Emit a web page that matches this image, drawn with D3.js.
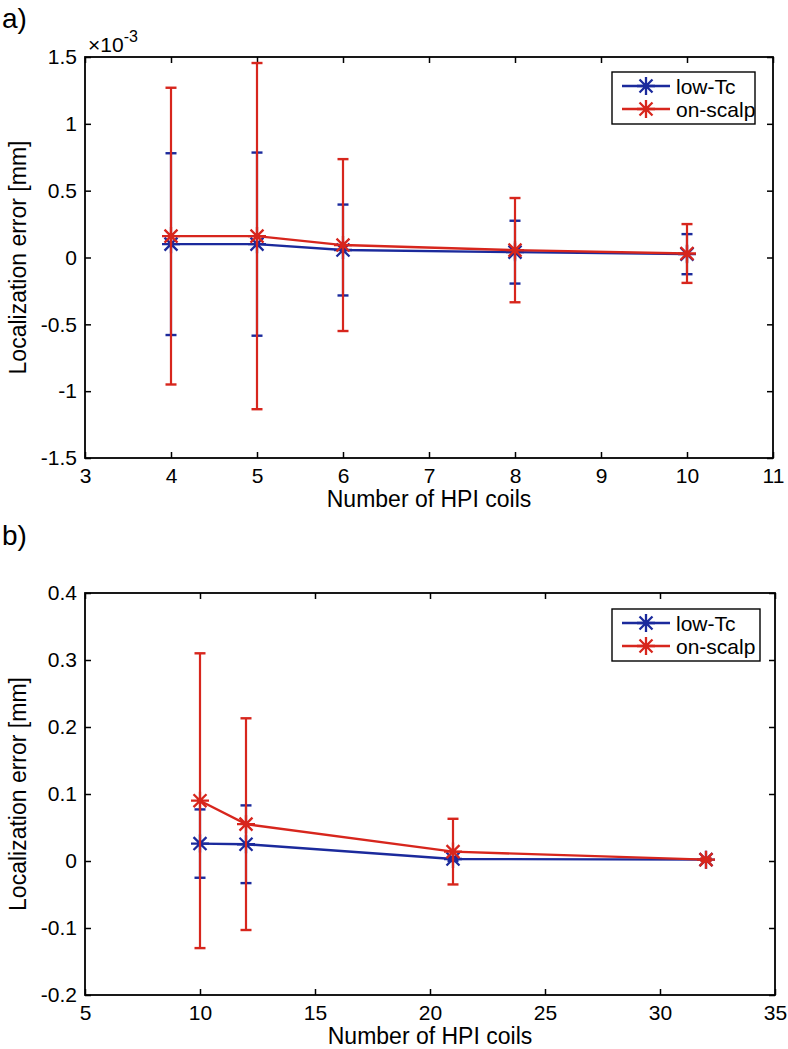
<!DOCTYPE html>
<html>
<head>
<meta charset="utf-8">
<script src="https://cdn.jsdelivr.net/npm/d3@7"></script>
<style>
  html, body { margin: 0; padding: 0; background: #fff; }
  svg { display: block; }
  text { font-family: "Liberation Sans", Arial, Helvetica, sans-serif; fill: #000; }
</style>
</head>
<body>
<svg id="chart" width="788" height="1049"></svg>
<script>
// ---------- Data ----------
// Panel a) values in units of 1e-3 mm
const seriesNames = ["low-Tc", "on-scalp"];
const coilsA = [4, 5, 6, 8, 10];
const lowTcMeanA = [0.10, 0.10, 0.056, 0.040, 0.025];
const lowTcErrA = [0.68, 0.685, 0.34, 0.235, 0.15];
const onScalpMeanA = [0.16, 0.16, 0.093, 0.055, 0.030];
const onScalpErrA = [1.11, 1.295, 0.643, 0.39, 0.22];
const xTicksA = [3, 4, 5, 6, 7, 8, 9, 10, 11];
const yTicksA = [-1.5, -1, -0.5, 0, 0.5, 1, 1.5];
const yTickLabelsA = ["-1.5", "-1", "-0.5", "0", "0.5", "1", "1.5"];

// Panel b) values in mm
const coilsB = [10, 12, 21, 32];
const lowTcMeanB = [0.026, 0.025, 0.003, 0.002];
const lowTcErrB = [0.051, 0.058, 0.003, 0.001];
const onScalpMeanB = [0.090, 0.055, 0.014, 0.002];
const onScalpErrB = [0.220, 0.158, 0.049, 0.002];
const xTicksB = [5, 10, 15, 20, 25, 30, 35];
const yTicksB = [-0.2, -0.1, 0, 0.1, 0.2, 0.3, 0.4];
const yTickLabelsB = ["-0.2", "-0.1", "0", "0.1", "0.2", "0.3", "0.4"];

const xLabel = "Number of HPI coils";
const yLabel = "Localization error [mm]";

// ---------- Styles ----------
const BLUE = "#1b2a9c";
const RED = "#d7261d";
const TICK_FONT = 21;
const LABEL_FONT = 23;

const svg = d3.select("#chart");

function asteriskPath(r) {
  const a = r * 0.72;
  return `M0,${-r}V${r}M${-r},0H${r}M${-a},${-a}L${a},${a}M${-a},${a}L${a},${-a}`;
}

function drawPanel(opts) {
  const { left, right, top, bottom, xDomain, yDomain, xTicks, yTicks, yTickLabels, series, legend } = opts;
  const x = d3.scaleLinear().domain(xDomain).range([left, right]);
  const y = d3.scaleLinear().domain(yDomain).range([bottom, top]);
  const g = svg.append("g");

  const tickLen = 6;
  const ax = g.append("g").attr("transform", `translate(0,${bottom})`)
    .call(d3.axisBottom(x).tickValues(xTicks).tickFormat(d3.format("d")).tickSizeInner(-tickLen).tickSizeOuter(0).tickPadding(10));
  const axT = g.append("g").attr("transform", `translate(0,${top})`)
    .call(d3.axisTop(x).tickValues(xTicks).tickFormat("").tickSizeInner(-tickLen).tickSizeOuter(0));
  const ay = g.append("g").attr("transform", `translate(${left},0)`)
    .call(d3.axisLeft(y).tickValues(yTicks).tickFormat((d, i) => yTickLabels[i]).tickSizeInner(-tickLen).tickSizeOuter(0).tickPadding(8));
  const ayR = g.append("g").attr("transform", `translate(${right},0)`)
    .call(d3.axisRight(y).tickValues(yTicks).tickFormat("").tickSizeInner(-tickLen).tickSizeOuter(0));
  [ax, axT, ay, ayR].forEach(a => {
    a.select(".domain").remove();
    a.selectAll(".tick line").attr("stroke", "#000").attr("stroke-width", 1.5);
    a.selectAll(".tick text").attr("font-size", TICK_FONT)
      .attr("font-family", '"Liberation Sans", Arial, sans-serif').attr("fill", "#000");
  });
  ax.selectAll(".tick text").attr("dy", "0.71em");

  g.append("rect").attr("x", left).attr("y", top).attr("width", right - left).attr("height", bottom - top)
    .attr("fill", "none").attr("stroke", "#000").attr("stroke-width", 1.8);

  series.forEach(s => {
    const sg = g.append("g");
    const capW = 5.5;
    s.xs.forEach((xv, i) => {
      const px = x(xv);
      const y1 = y(s.mean[i] + s.err[i]);
      const y0 = y(s.mean[i] - s.err[i]);
      sg.append("line").attr("x1", px).attr("x2", px).attr("y1", y1).attr("y2", y0)
        .attr("stroke", s.color).attr("stroke-width", 2.2);
      [y1, y0].forEach(cy => sg.append("line").attr("x1", px - capW).attr("x2", px + capW)
        .attr("y1", cy).attr("y2", cy).attr("stroke", s.color).attr("stroke-width", 2.4));
    });
    const line = d3.line().x((d, i) => x(s.xs[i])).y(d => y(d));
    sg.append("path").datum(s.mean).attr("d", line).attr("fill", "none")
      .attr("stroke", s.color).attr("stroke-width", 2.4);
    sg.selectAll("path.mk").data(s.mean).enter().append("path").attr("class", "mk")
      .attr("d", asteriskPath(9))
      .attr("transform", (d, i) => `translate(${x(s.xs[i])},${y(d)})`)
      .attr("stroke", s.color).attr("stroke-width", 2.3).attr("fill", "none");
  });

  g.append("text").attr("x", (left + right) / 2).attr("y", bottom + 49)
    .attr("text-anchor", "middle").attr("font-size", LABEL_FONT).text(xLabel);
  g.append("text").attr("transform", `translate(${left - 59},${(top + bottom) / 2}) rotate(-90)`)
    .attr("text-anchor", "middle").attr("font-size", LABEL_FONT).text(yLabel);

  const lg = g.append("g").attr("transform", `translate(${legend.x},${legend.y})`);
  lg.append("rect").attr("x", 0).attr("y", 0).attr("width", legend.w).attr("height", 52)
    .attr("fill", "#fff").attr("stroke", "#000").attr("stroke-width", 1.4);
  series.forEach((s, i) => {
    const ry = 14 + i * 23;
    lg.append("line").attr("x1", 10).attr("x2", 58).attr("y1", ry).attr("y2", ry)
      .attr("stroke", s.color).attr("stroke-width", 2.4);
    lg.append("path").attr("d", asteriskPath(9)).attr("transform", `translate(34,${ry})`)
      .attr("stroke", s.color).attr("stroke-width", 2.3).attr("fill", "none");
    lg.append("text").attr("x", 64).attr("y", ry).attr("dy", "0.36em")
      .attr("font-size", TICK_FONT).text(s.name);
  });
  return { x, y };
}

drawPanel({
  left: 85, right: 773, top: 57, bottom: 458,
  xDomain: [3, 11], yDomain: [-1.5, 1.5],
  xTicks: xTicksA, yTicks: yTicksA, yTickLabels: yTickLabelsA,
  series: [
    { name: seriesNames[0], xs: coilsA, mean: lowTcMeanA, err: lowTcErrA, color: BLUE },
    { name: seriesNames[1], xs: coilsA, mean: onScalpMeanA, err: onScalpErrA, color: RED }
  ],
  legend: { x: 612, y: 72, w: 143 }
});
const expT = svg.append("text").attr("x", 88).attr("y", 52).attr("font-size", 21);
expT.append("tspan").text("×10");
expT.append("tspan").attr("dy", -10).attr("font-size", 16).text("-3");

drawPanel({
  left: 85, right: 775, top: 593, bottom: 995,
  xDomain: [5, 35], yDomain: [-0.2, 0.4],
  xTicks: xTicksB, yTicks: yTicksB, yTickLabels: yTickLabelsB,
  series: [
    { name: seriesNames[0], xs: coilsB, mean: lowTcMeanB, err: lowTcErrB, color: BLUE },
    { name: seriesNames[1], xs: coilsB, mean: onScalpMeanB, err: onScalpErrB, color: RED }
  ],
  legend: { x: 612, y: 609, w: 148 }
});

svg.append("text").attr("x", 2).attr("y", 28).attr("font-size", 28)
  .attr("font-family", '"Open Sans", sans-serif').text("a)");
svg.append("text").attr("x", 2).attr("y", 545).attr("font-size", 28)
  .attr("font-family", '"Open Sans", sans-serif').text("b)");
</script>
</body>
</html>
